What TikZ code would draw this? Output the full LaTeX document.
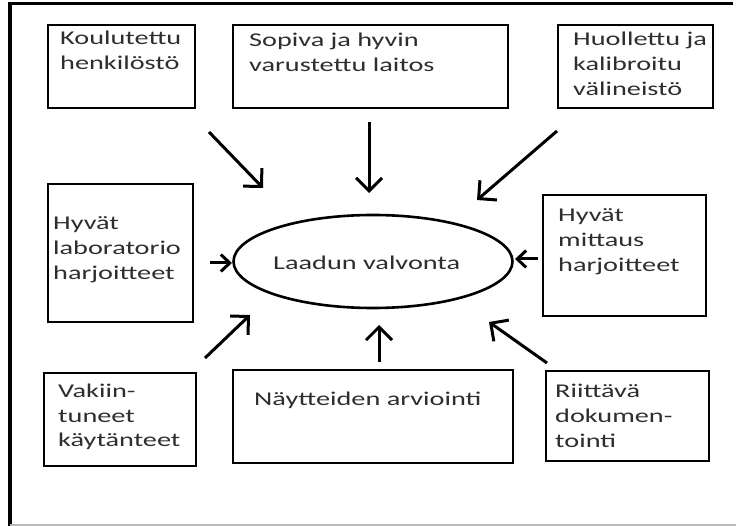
\documentclass[tikz,border=0pt]{standalone}
\usepackage{fontspec}
\setmainfont[FakeStretch=1.45]{Carlito}
\usetikzlibrary{arrows.meta,shapes.geometric,fit}
\definecolor{txt}{HTML}{2E2E2E}
\begin{document}
\begin{tikzpicture}[x=1pt,y=-1pt,
  box/.style={draw, line width=2.7pt, rectangle, inner sep=0pt},
  lbl/.style={anchor=base west, inner sep=0pt, text=txt, font=\fontsize{19.5}{25}\selectfont},
  arr/.style={line width=3pt, -{Straight Barb[length=13pt,width=26pt,line width=3pt]}},
  sarr/.style={line width=3pt, -{Straight Barb[length=9pt,width=17pt,line width=3pt]}}]
\useasboundingbox (0,0) rectangle (736,526);
\fill[white] (0,0) rectangle (736,526);
% outer frame
\draw[line width=3pt] (733,4) -- (10,4);
\draw[line width=4pt] (10,2.5) -- (10,526);
\draw[gray!55, line width=1.5pt] (10,525) -- (740,525);

% boxes
\node[box, fit={(48,25) (195,108)}] (b1) {};
\node[box, fit={(233,25) (508,108)}] (b2) {};
\node[box, fit={(558,25) (713,108)}] (b3) {};
\node[box, fit={(48,184) (193,322)}] (b4) {};
\node[box, fit={(543,195) (706,316)}] (b5) {};
\node[box, fit={(44,373) (196,466)}] (b6) {};
\node[box, fit={(233,370) (513,463)}] (b7) {};
\node[box, fit={(546,371) (709,461)}] (b8) {};

% ellipse
\node[draw, ellipse, line width=2.6pt, inner sep=0pt, minimum width=279pt, minimum height=93pt] (e) at (373,261.5) {};
\node[lbl] (te) at (273,270) {Laadun valvonta};

% texts
\node[lbl] (t1a) at (60,45) {Koulutettu};
\node[lbl] (t1b) at (60,70) {henkilöstö};
\node[lbl] (t2a) at (249,47) {Sopiva ja hyvin};
\node[lbl] (t2b) at (249,72) {varustettu laitos};
\node[lbl] (t3a) at (573,46) {Huollettu ja};
\node[lbl] (t3b) at (573,71) {kalibroitu};
\node[lbl] (t3c) at (573,96) {välineistö};
\node[lbl] (t4a) at (53,230) {Hyvät};
\node[lbl] (t4b) at (53,255) {laboratorio};
\node[lbl] (t4c) at (53,280) {harjoitteet};
\node[lbl] (t5a) at (558,222) {Hyvät};
\node[lbl] (t5b) at (558,247) {mittaus};
\node[lbl] (t5c) at (558,272) {harjoitteet};
\node[lbl] (t6a) at (58,397) {Vakiin-};
\node[lbl] (t6b) at (58,422) {tuneet};
\node[lbl] (t6c) at (58,446) {käytänteet};
\node[lbl] (t7a) at (254,405) {Näytteiden arviointi};
\node[lbl] (t8a) at (555,397) {Riittävä};
\node[lbl] (t8b) at (555,422) {dokumen-};
\node[lbl] (t8c) at (555,447) {tointi};

% arrow end points
\coordinate (a1s) at (209,132); \coordinate (a1e) at (263,188);
\coordinate (a2s) at (369,122); \coordinate (a2e) at (369,193);
\coordinate (a3s) at (557,131); \coordinate (a3e) at (477,200);
\coordinate (a4s) at (210,263); \coordinate (a4e) at (232,263);
\coordinate (a5s) at (538,259); \coordinate (a5e) at (515,259);
\coordinate (a6s) at (205,358); \coordinate (a6e) at (250,315);
\coordinate (a7s) at (379,362); \coordinate (a7e) at (379,325);
\coordinate (a8s) at (547,363); \coordinate (a8e) at (489,322);

\draw[arr] (a1s) -- (a1e);
\draw[arr] (a2s) -- (a2e);
\draw[arr] (a3s) -- (a3e);
\draw[sarr] (a4s) -- (a4e);
\draw[sarr] (a5s) -- (a5e);
\draw[arr] (a6s) -- (a6e);
\draw[arr] (a7s) -- (a7e);
\draw[arr] (a8s) -- (a8e);
\end{tikzpicture}
\end{document}
